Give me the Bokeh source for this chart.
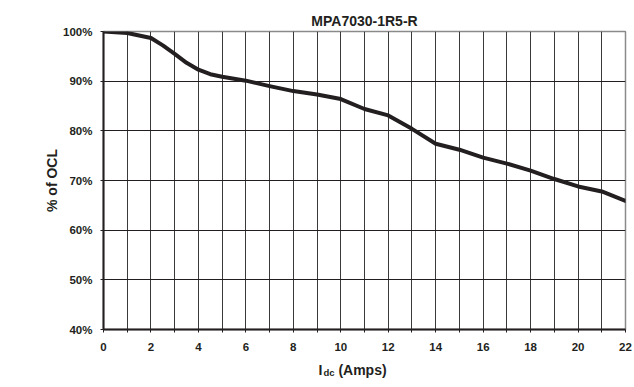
from bokeh.plotting import figure
from bokeh.models import FixedTicker, Range1d
from bokeh.layouts import column
from bokeh.core.properties import value
from bokeh.embed import file_html
from bokeh.resources import INLINE

chart_title = "MPA7030-1R5-R"
y_axis_title = "% of OCL"
x_label_main = "I"
x_label_sub = "dc"
x_label_rest = "(Amps)"

current_a = [0, 0.5, 1, 2, 2.5, 3, 3.5, 4, 4.5, 5, 6, 7, 8, 9, 10, 11, 12, 13,
             14, 15, 16, 17, 18, 19, 20, 21, 22]
ocl_pct = [100.0, 99.85, 99.7, 98.7, 97.2, 95.5, 93.7, 92.3, 91.4, 90.9, 90.1,
           89.0, 88.0, 87.3, 86.4, 84.4, 83.1, 80.4, 77.4, 76.2, 74.6, 73.4,
           72.0, 70.3, 68.8, 67.8, 65.9]

x_ticks = list(range(0, 23))
x_tick_labels = {i: (str(i) if i % 2 == 0 else "") for i in x_ticks}
y_ticks = [40, 50, 60, 70, 80, 90, 100]
y_tick_labels = {v: f"{v}%" for v in y_ticks}

FONT = "Liberation Sans"
INK = "#231f20"

fig = figure(width=634, height=356, output_backend="svg", toolbar_location=None,
             x_range=Range1d(0, 22), y_range=Range1d(40, 100),
             min_border_left=103, min_border_right=9, min_border_top=31,
             min_border_bottom=27, background_fill_color="white",
             border_fill_color="white")

fig.title.text = chart_title
fig.title.align = "center"
fig.title.text_font = FONT
fig.title.text_font_size = "14px"
fig.title.text_font_style = "bold"
fig.title.text_color = INK
fig.title.offset = -10
fig.title.standoff = 6

# Axes
fig.xaxis.ticker = FixedTicker(ticks=x_ticks)
fig.xaxis.major_label_overrides = x_tick_labels
fig.yaxis.ticker = FixedTicker(ticks=y_ticks)
fig.yaxis.major_label_overrides = y_tick_labels
for ax in (fig.xaxis[0], fig.yaxis[0]):
    ax.axis_line_color = INK
    ax.axis_line_width = 2
    ax.major_tick_line_color = INK
    ax.major_tick_in = 0
    ax.major_tick_out = 3
    ax.minor_tick_line_color = None
    ax.major_label_text_font = FONT
    ax.major_label_text_font_size = "11.5px"
    ax.major_label_text_font_style = "bold"
    ax.major_label_text_color = INK
fig.xaxis.major_label_standoff = 10
fig.yaxis.major_label_standoff = 8

fig.yaxis.axis_label = y_axis_title
fig.yaxis.axis_label_text_font = FONT
fig.yaxis.axis_label_text_font_size = "14px"
fig.yaxis.axis_label_text_font_style = "bold"
fig.yaxis.axis_label_text_color = INK
fig.yaxis.axis_label_standoff = 0

# Grid
fig.xgrid.ticker = FixedTicker(ticks=x_ticks)
fig.ygrid.ticker = FixedTicker(ticks=y_ticks)
fig.xgrid.grid_line_color = "#3a3a3a"
fig.ygrid.grid_line_color = INK
fig.xgrid.grid_line_width = 1
fig.ygrid.grid_line_width = 1
fig.outline_line_color = "#8a8a8a"
fig.outline_line_width = 1.5

# Curve
fig.line(current_a, ocl_pct, line_width=4, line_color=INK, line_join="round",
         line_cap="round")

# X-axis title strip; its frame is aligned with the main frame by the column,
# so it shares the same x scale (amps). y measured upward in pixels.
strip = figure(width=634, height=31, output_backend="svg", toolbar_location=None,
               title=None, x_range=Range1d(0, 22), y_range=Range1d(0, 31),
               x_axis_type=None, y_axis_type=None,
               min_border_left=103, min_border_right=9, min_border_top=0,
               min_border_bottom=0, border_fill_color="white",
               background_fill_color="white", outline_line_color=None)
strip.grid.visible = False
txt_kw = dict(text_font=value(FONT), text_font_style="bold", text_color=INK,
              text_baseline="alphabetic", text_align="left")
strip.text(x=[9.06], y=[18], text=[x_label_main], text_font_size="14px", **txt_kw)
strip.text(x=[9.27], y=[15], text=[x_label_sub], text_font_size="9.5px", **txt_kw)
strip.text(x=[9.90], y=[18], text=[x_label_rest], text_font_size="14px", **txt_kw)

p = column(fig, strip, spacing=0)

open("out.html", "w").write(file_html(p, INLINE))
